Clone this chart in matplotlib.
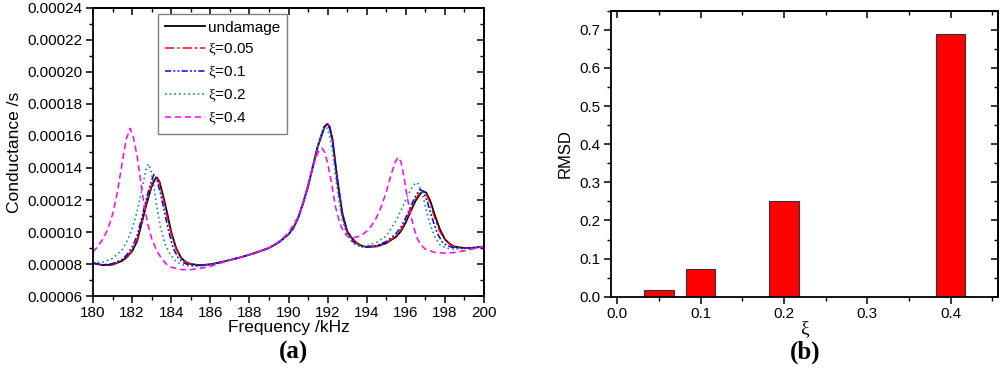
import matplotlib
matplotlib.use("Agg")
import matplotlib.pyplot as plt
from matplotlib.ticker import MultipleLocator, FormatStrFormatter

plt.rcParams['font.family'] = ['Liberation Sans', 'DejaVu Sans']
plt.rcParams['mathtext.fontset'] = 'custom'
plt.rcParams['mathtext.rm'] = 'Liberation Serif'
plt.rcParams['mathtext.it'] = 'Liberation Serif:italic'

# ---- conductance curves (kHz, micro-siemens) ----
f_undamage = [180.0, 180.5, 181.0, 181.5, 181.75, 182.0, 182.25, 182.5, 182.75, 183.0, 183.15, 183.27,
              183.4, 183.6, 183.8, 184.0, 184.25, 184.5, 184.75, 185.0, 185.5, 186.0, 186.5, 187.0,
              187.5, 188.0, 188.5, 189.0, 189.5, 190.0, 190.25, 190.5, 190.75, 191.0, 191.25, 191.5,
              191.7, 191.85, 192.0, 192.1, 192.25, 192.5, 192.75, 193.0, 193.25, 193.5, 193.75, 194.0,
              194.5, 195.0, 195.5, 195.75, 196.0, 196.25, 196.5, 196.75, 196.9, 197.05, 197.25, 197.5,
              197.75, 198.0, 198.25, 198.5, 199.0, 199.5, 200.0]
g_undamage = [80.5, 79.3, 79.6, 82.0, 84.5, 88.0, 94.0, 106.0, 118.0, 128.5, 132.5, 134.0,
              131.5, 122.0, 111.5, 100.0, 90.0, 84.0, 81.2, 80.0, 79.2, 79.8, 81.0, 82.5,
              84.0, 85.8, 87.8, 90.0, 93.5, 98.5, 102.5, 109.0, 118.0, 128.5, 141.0, 153.5,
              160.5, 166.0, 167.5, 166.0, 158.0, 133.0, 112.0, 100.5, 96.0, 93.0, 91.3, 90.7,
              91.0, 93.0, 97.0, 100.5, 106.0, 113.0, 119.5, 124.0, 125.5, 124.5, 119.5, 110.0,
              101.5, 95.5, 92.5, 90.8, 90.0, 90.2, 90.9]

f_xi005 = [180.0, 180.5, 181.0, 181.5, 181.75, 182.0, 182.25, 182.5, 182.75, 183.0, 183.12, 183.24,
           183.38, 183.58, 183.78, 184.0, 184.25, 184.5, 184.75, 185.0, 185.5, 186.0, 186.5, 187.0,
           187.5, 188.0, 188.5, 189.0, 189.5, 190.0, 190.25, 190.5, 190.75, 191.0, 191.25, 191.5,
           191.7, 191.85, 191.98, 192.1, 192.25, 192.5, 192.75, 193.0, 193.25, 193.5, 193.75, 194.0,
           194.5, 195.0, 195.5, 195.75, 196.0, 196.25, 196.5, 196.72, 196.87, 197.02, 197.22, 197.47,
           197.72, 198.0, 198.25, 198.5, 199.0, 199.5, 200.0]
g_xi005 = [80.5, 79.3, 79.7, 82.2, 84.8, 88.5, 94.8, 107.0, 119.5, 129.5, 133.0, 134.2,
           131.5, 121.5, 110.5, 99.0, 89.5, 83.8, 81.0, 79.9, 79.2, 79.8, 81.0, 82.5,
           84.0, 85.8, 87.8, 90.0, 93.5, 98.5, 102.5, 109.0, 118.0, 128.5, 141.0, 153.5,
           160.8, 166.2, 167.5, 165.8, 157.5, 132.5, 111.5, 100.2, 95.8, 92.9, 91.2, 90.7,
           91.1, 93.2, 97.5, 101.2, 107.0, 114.0, 120.5, 124.5, 125.7, 124.3, 119.0, 109.0,
           100.8, 95.2, 92.3, 90.7, 90.0, 90.2, 90.9]

f_xi01 = [180.0, 180.5, 181.0, 181.5, 181.75, 182.0, 182.25, 182.5, 182.75, 183.0, 183.12, 183.25,
          183.45, 183.65, 183.85, 184.1, 184.35, 184.6, 184.85, 185.25, 185.75, 186.0, 186.5, 187.0,
          187.5, 188.0, 188.5, 189.0, 189.5, 190.0, 190.25, 190.5, 190.75, 191.0, 191.25, 191.5,
          191.7, 191.85, 191.97, 192.1, 192.25, 192.5, 192.75, 193.0, 193.25, 193.5, 193.75, 194.0,
          194.5, 195.0, 195.5, 195.75, 196.0, 196.25, 196.5, 196.73, 196.9, 197.1, 197.35, 197.6,
          197.85, 198.1, 198.5, 199.0, 199.5, 200.0]
g_xi01 = [80.7, 79.5, 80.2, 83.0, 86.0, 90.5, 97.5, 109.0, 122.0, 132.5, 136.0, 133.5,
          124.0, 113.0, 101.5, 90.0, 84.0, 81.0, 79.6, 79.0, 79.4, 79.8, 81.0, 82.5,
          84.0, 85.8, 87.8, 90.0, 93.5, 98.5, 102.5, 109.0, 118.5, 129.0, 141.5, 154.0,
          161.5, 166.5, 167.3, 165.0, 157.0, 130.5, 110.5, 99.5, 94.5, 92.0, 90.8, 90.7,
          91.5, 94.0, 99.0, 103.0, 109.0, 116.0, 122.5, 126.7, 125.0, 119.0, 108.5, 99.5,
          94.0, 91.5, 90.0, 89.8, 90.2, 90.9]

f_xi02 = [180.0, 180.5, 181.0, 181.5, 181.75, 182.0, 182.25, 182.5, 182.7, 182.83, 182.95, 183.1,
          183.25, 183.45, 183.7, 183.95, 184.25, 184.6, 185.0, 185.5, 186.0, 186.5, 187.0, 187.5,
          188.0, 188.5, 189.0, 189.5, 190.0, 190.25, 190.5, 190.75, 191.0, 191.25, 191.5, 191.7,
          191.85, 191.95, 192.1, 192.25, 192.5, 192.75, 193.0, 193.25, 193.5, 193.75, 194.0, 194.5,
          195.0, 195.5, 195.75, 196.0, 196.25, 196.5, 196.65, 196.85, 197.05, 197.25, 197.5, 197.75,
          198.1, 198.5, 199.0, 199.5, 200.0]
g_xi02 = [81.0, 81.2, 83.5, 89.0, 94.5, 102.0, 112.5, 126.5, 138.5, 142.5, 139.5, 129.5,
          117.0, 103.0, 92.0, 86.0, 81.5, 79.4, 78.6, 78.6, 79.5, 81.0, 82.5, 84.0,
          85.8, 87.8, 90.0, 93.5, 98.5, 102.5, 109.0, 118.5, 129.0, 141.5, 154.0, 162.0,
          165.5, 165.3, 160.0, 150.5, 126.0, 107.5, 98.0, 93.5, 91.5, 91.0, 91.5, 93.5,
          97.5, 107.0, 113.5, 120.0, 126.5, 130.8, 130.0, 124.0, 113.5, 104.5, 96.5, 92.0,
          89.8, 89.3, 89.5, 90.1, 90.9]

f_xi04 = [180.0, 180.25, 180.5, 180.75, 181.0, 181.25, 181.5, 181.7, 181.9, 182.05, 182.25, 182.4,
          182.6, 182.8, 183.0, 183.25, 183.5, 183.75, 184.0, 184.5, 185.0, 185.5, 186.0, 186.5,
          187.0, 187.5, 188.0, 188.5, 189.0, 189.5, 190.0, 190.5, 190.75, 191.0, 191.25, 191.5,
          191.7, 191.85, 192.0, 192.2, 192.4, 192.6, 192.8, 193.0, 193.4, 193.75, 194.0, 194.25,
          194.5, 194.75, 195.0, 195.25, 195.45, 195.6, 195.75, 195.9, 196.05, 196.2, 196.4, 196.6,
          196.8, 197.0, 197.5, 198.0, 198.5, 199.0, 199.5, 200.0]
g_xi04 = [87.5, 91.0, 95.5, 101.5, 111.0, 125.0, 144.0, 158.0, 164.8, 160.0, 148.0, 135.0,
          118.0, 105.0, 96.0, 88.5, 83.5, 80.0, 78.0, 76.5, 76.5, 77.3, 78.5, 80.5,
          82.3, 84.0, 85.8, 87.8, 90.2, 94.0, 99.5, 109.5, 118.5, 129.5, 141.0, 149.5,
          152.5, 150.0, 143.0, 130.5, 116.0, 106.5, 100.5, 97.5, 96.5, 98.0, 100.5, 104.0,
          109.0, 116.0, 125.0, 136.0, 143.5, 146.7, 144.0, 135.0, 123.5, 113.5, 103.0, 95.5,
          91.5, 89.3, 87.2, 86.8, 87.2, 88.3, 89.6, 90.9]

# ---- RMSD bars ----
xi_values = [0.05, 0.1, 0.2, 0.4]
rmsd = [0.018, 0.072, 0.251, 0.690]

fig = plt.figure(figsize=(10, 3.88), dpi=100)
ax1 = fig.add_axes([0.093, 0.2371, 0.391, 0.7423])
ax2 = fig.add_axes([0.611, 0.2353, 0.387, 0.7371])

scale = 1e-6
ax1.plot(f_undamage, [v * scale for v in g_undamage], color='black', lw=1.3, label='undamage')
ax1.plot(f_xi005, [v * scale for v in g_xi005], color='red', lw=1.1,
         linestyle=(0, (6, 2, 1.5, 2)), label=r'$\mathrm{\xi}$=0.05')
ax1.plot(f_xi01, [v * scale for v in g_xi01], color='blue', lw=1.1,
         linestyle=(0, (4, 1.5, 1.2, 1.5, 1.2, 1.5)), label=r'$\mathrm{\xi}$=0.1')
ax1.plot(f_xi02, [v * scale for v in g_xi02], color='#1a9090', lw=1.2,
         linestyle=(0, (1, 1.8)), label=r'$\mathrm{\xi}$=0.2')
ax1.plot(f_xi04, [v * scale for v in g_xi04], color='#ff00ff', lw=1.1,
         linestyle=(0, (4, 2.5)), label=r'$\mathrm{\xi}$=0.4')

ax1.set_xlim(180, 200)
ax1.set_ylim(0.00006, 0.00024)
ax1.xaxis.set_major_locator(MultipleLocator(2))
ax1.xaxis.set_minor_locator(MultipleLocator(1))
ax1.yaxis.set_major_locator(MultipleLocator(0.00002))
ax1.yaxis.set_minor_locator(MultipleLocator(0.00001))
ax1.yaxis.set_major_formatter(FormatStrFormatter('%.5f'))
ax1.set_xlabel('Frequency /kHz', fontsize=12.5, labelpad=0)
ax1.set_ylabel('Conductance /s', fontsize=12.5, labelpad=4)
leg = ax1.legend(loc='upper left', bbox_to_anchor=(0.166, 0.98), borderaxespad=0,
                 fontsize=11, handlelength=2.6, handletextpad=0.25, labelspacing=0.45,
                 fancybox=False, framealpha=1, borderpad=0.45)
leg.get_frame().set_edgecolor('#808080')
leg.get_frame().set_linewidth(1.0)

ax2.bar(xi_values, rmsd, width=0.035, color='red', edgecolor='#333333', linewidth=0.8)
ax2.set_xlim(-0.0076, 0.457)
ax2.set_ylim(0, 0.75)
ax2.xaxis.set_major_locator(MultipleLocator(0.1))
ax2.xaxis.set_minor_locator(MultipleLocator(0.05))
ax2.yaxis.set_major_locator(MultipleLocator(0.1))
ax2.yaxis.set_minor_locator(MultipleLocator(0.05))
ax2.xaxis.set_major_formatter(FormatStrFormatter('%.1f'))
ax2.yaxis.set_major_formatter(FormatStrFormatter('%.1f'))
ax2.set_xlabel('ξ', fontsize=14, family='Liberation Serif', labelpad=-1)
ax2.set_ylabel('RMSD', fontsize=12, labelpad=5)

# ticks: outward on bottom/left, inward on top/right (Origin style)
for ax in (ax1, ax2):
    for s in ax.spines.values():
        s.set_linewidth(1.3)
    ax.tick_params(which='major', direction='out', length=5, width=1.1, labelsize=11, pad=2.5)
    ax.tick_params(which='minor', direction='out', length=3, width=1.0)
    top = ax.secondary_xaxis('top')
    top.xaxis.set_major_locator(ax.xaxis.get_major_locator())
    top.xaxis.set_minor_locator(ax.xaxis.get_minor_locator())
    top.tick_params(which='major', direction='in', length=5, width=1.1, labeltop=False)
    top.tick_params(which='minor', direction='in', length=3, width=1.0)
    right = ax.secondary_yaxis('right')
    right.yaxis.set_major_locator(ax.yaxis.get_major_locator())
    right.yaxis.set_minor_locator(ax.yaxis.get_minor_locator())
    right.tick_params(which='major', direction='in', length=5, width=1.1, labelright=False)
    right.tick_params(which='minor', direction='in', length=3, width=1.0)
    top.spines['top'].set_linewidth(1.3)
    right.spines['right'].set_linewidth(1.3)

fig.text(0.293, 0.092, '(a)', fontsize=18, fontweight='bold', family='Liberation Serif',
         ha='center', va='center')
fig.text(0.805, 0.092, '(b)', fontsize=18, fontweight='bold', family='Liberation Serif',
         ha='center', va='center')

fig.savefig('out.png', dpi=100)
